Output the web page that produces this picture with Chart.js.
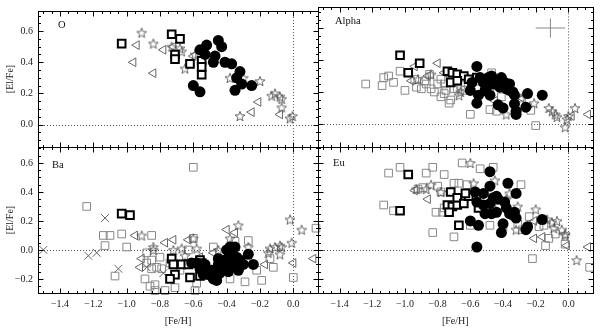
<!DOCTYPE html>
<html><head><meta charset="utf-8">
<script src="https://cdn.jsdelivr.net/npm/chart.js@4.4.0/dist/chart.umd.min.js"></script>
<style>
html,body{margin:0;padding:0;background:#fff;}
#wrap{position:relative;width:600px;height:328px;overflow:hidden;}
canvas{position:absolute;left:0;top:0;}
</style></head><body>
<div id="wrap">
<canvas id="cTL" width="600" height="328"></canvas>
<canvas id="cTR" width="600" height="328"></canvas>
<canvas id="cBL" width="600" height="328"></canvas>
<canvas id="cBR" width="600" height="328"></canvas>
</div>
<script>
// ---------- tick labels ----------
const xTickValues = [-1.4, -1.2, -1.0, -0.8, -0.6, -0.4, -0.2, 0.0];
const yTickTop = [0.0, 0.2, 0.4, 0.6];
const yTickBottom = [-0.2, 0.0, 0.2, 0.4, 0.6];
const xTitle = '[Fe/H]';
const yTitle = '[El/Fe]';
const panelNames = ['O', 'Alpha', 'Ba', 'Eu'];

// ---------- O ----------
const O_circles = [[-0.52,0.51],[-0.56,0.48],[-0.53,0.45],[-0.45,0.54],[-0.43,0.50],[-0.47,0.44],[-0.48,0.40],[-0.41,0.40],[-0.37,0.39],[-0.32,0.34],[-0.34,0.30],[-0.31,0.26],[-0.35,0.22],[-0.25,0.25],[-0.60,0.25],[-0.56,0.21]];
const O_bold = [[-1.03,0.52],[-0.73,0.58],[-0.68,0.55],[-0.71,0.45],[-0.71,0.42],[-0.62,0.39],[-0.55,0.41],[-0.55,0.37],[-0.55,0.32]];
const O_stars = [[-0.91,0.59],[-0.84,0.52],[-0.73,0.50],[-0.68,0.49],[-0.67,0.47],[-0.65,0.36],[-0.59,0.45],[-0.38,0.30],[-0.30,0.30],[-0.20,0.28],[-0.32,0.055],[-0.13,0.185],[-0.11,0.20],[-0.08,0.18],[-0.07,0.165],[-0.07,0.11],[-0.02,0.04],[-0.005,0.055]];
const O_tri = [[-0.94,0.51],[-0.96,0.40],[-0.84,0.33],[-0.78,0.48],[-0.72,0.50],[-0.60,0.44],[-0.25,0.08],[-0.21,0.145],[-0.08,0.065]];

// ---------- Alpha ----------
const A_circles = [[-0.56,0.36],[-0.59,0.26],[-0.60,0.21],[-0.54,0.29],[-0.52,0.26],[-0.49,0.29],[-0.47,0.30],[-0.46,0.25],[-0.51,0.21],[-0.55,0.18],[-0.56,0.13],[-0.48,0.18],[-0.43,0.27],[-0.41,0.29],[-0.39,0.26],[-0.36,0.25],[-0.38,0.22],[-0.34,0.20],[-0.33,0.18],[-0.43,0.12],[-0.40,0.10],[-0.33,0.125],[-0.32,0.06],[-0.32,0.08],[-0.26,0.105],[-0.25,0.19],[-0.16,0.18],[-0.42,0.23],[-0.50,0.23],[-0.36,0.21]];
const A_bold = [[-1.03,0.43],[-0.91,0.38],[-0.98,0.32],[-0.74,0.33],[-0.71,0.32],[-0.68,0.31],[-0.64,0.30],[-0.61,0.28],[-0.72,0.26],[-0.68,0.27],[-0.56,0.29]];
const A_squares = [[-1.24,0.25],[-1.14,0.24],[-1.13,0.29],[-1.10,0.30],[-1.07,0.26],[-1.03,0.33],[-1.00,0.21],[-0.93,0.23],[-0.88,0.27],[-0.87,0.25],[-0.85,0.31],[-0.82,0.20],[-0.80,0.25],[-0.78,0.17],[-0.75,0.21],[-0.73,0.13],[-0.72,0.15],[-0.70,0.22],[-0.66,0.24],[-0.63,0.21],[-0.60,0.06],[-0.48,0.09],[-0.47,0.32],[-0.44,0.08],[-0.23,0.085],[-0.20,-0.01],[-0.78,0.28],[-0.94,0.28],[-0.84,0.22],[-0.76,0.25],[-0.68,0.22],[-0.90,0.22],[-0.64,0.26],[-0.56,0.22],[-0.41,0.17],[-0.48,0.22],[-0.76,0.19]];
const A_stars = [[-0.92,0.28],[-0.84,0.31],[-0.67,0.18],[-0.66,0.20],[-0.38,0.06],[-0.29,0.16],[-0.21,0.13],[-0.12,0.10],[-0.10,0.08],[-0.08,0.06],[-0.07,0.045],[-0.02,-0.02],[-0.01,0.03],[0.04,0.10],[0.00,0.05]];
const A_tri = [[-0.96,0.27],[-0.94,0.36],[-0.80,0.38],[-0.86,0.30],[-0.76,0.32],[-0.45,0.145],[-0.28,0.16],[0.12,0.06],[0.02,0.05]];
const A_errCenter = [-0.11, 0.60];
const A_errSize = [0.09, 0.06];

// ---------- Ba ----------
const B_circles = [[-0.58,-0.09],[-0.56,-0.13],[-0.53,-0.10],[-0.52,-0.14],[-0.51,-0.17],[-0.48,-0.20],[-0.46,-0.21],[-0.54,-0.17],[-0.61,-0.09],[-0.45,-0.06],[-0.45,-0.10],[-0.42,-0.13],[-0.40,0.00],[-0.38,0.02],[-0.35,0.02],[-0.37,-0.02],[-0.34,-0.05],[-0.32,-0.07],[-0.36,-0.10],[-0.33,-0.14],[-0.30,-0.10],[-0.27,-0.03],[-0.24,-0.10],[-0.38,-0.09],[-0.39,-0.15],[-0.49,-0.14],[-0.41,-0.07],[-0.44,-0.16]];
const B_bold = [[-1.03,0.25],[-0.98,0.24],[-0.73,-0.06],[-0.72,-0.10],[-0.71,-0.17],[-0.74,-0.20],[-0.62,-0.19],[-0.67,-0.10],[-0.63,-0.10],[-0.56,-0.07],[-0.55,-0.09],[-0.56,-0.18]];
const B_squares = [[-0.60,0.57],[-1.24,0.30],[-1.14,0.10],[-1.10,0.10],[-1.13,0.03],[-1.03,0.11],[-1.00,0.02],[-1.07,-0.18],[-0.85,0.10],[-0.88,-0.02],[-0.88,-0.09],[-0.85,-0.13],[-0.89,-0.20],[-0.83,-0.24],[-0.83,-0.28],[-0.77,-0.28],[-0.80,-0.05],[-0.79,-0.13],[-0.82,-0.12],[-0.71,-0.26],[-0.59,-0.28],[-0.58,-0.23],[-0.48,0.02],[-0.63,0.00],[-0.60,0.08],[-0.35,0.06],[-0.27,0.065],[-0.38,-0.20],[-0.29,-0.22],[-0.19,-0.21],[-0.22,-0.14],[-0.14,-0.06],[-0.12,-0.12],[0.00,-0.19],[0.136,0.15],[-0.68,-0.14],[-0.74,-0.09],[-0.85,-0.07],[-0.86,-0.25]];
const B_stars = [[-0.91,0.10],[-0.84,0.02],[-0.84,0.00],[-0.72,0.00],[-0.67,0.01],[-0.60,0.08],[-0.58,0.01],[-0.65,-0.04],[-0.45,0.00],[-0.33,0.17],[-0.38,0.08],[-0.27,0.02],[-0.15,-0.02],[-0.14,0.01],[-0.11,0.02],[-0.08,0.03],[-0.07,0.02],[-0.02,0.21],[-0.01,0.05],[0.05,0.14],[-0.08,-0.03],[-0.43,-0.11]];
const B_tri = [[-0.95,0.10],[-0.91,-0.06],[-0.92,-0.12],[-0.77,0.05],[-0.72,0.07],[-0.63,0.07],[-0.56,-0.05],[-0.40,0.14],[-0.35,0.12],[-0.17,-0.10],[0.00,-0.09],[0.12,-0.06],[-0.48,-0.02]];
const B_cross = [[-1.50,0.00],[-1.23,-0.04],[-1.18,-0.02],[-1.13,0.22],[-1.05,-0.13],[-0.88,-0.12],[-0.78,-0.16]];

// ---------- Eu ----------
const E_circles = [[-0.48,0.54],[-0.48,0.44],[-0.37,0.46],[-0.32,0.39],[-0.57,0.40],[-0.52,0.39],[-0.46,0.36],[-0.44,0.37],[-0.56,0.33],[-0.52,0.31],[-0.48,0.32],[-0.43,0.35],[-0.51,0.25],[-0.47,0.25],[-0.44,0.26],[-0.38,0.29],[-0.36,0.25],[-0.34,0.24],[-0.32,0.22],[-0.40,0.18],[-0.41,0.12],[-0.60,0.20],[-0.55,0.17],[-0.26,0.14],[-0.25,0.16],[-0.16,0.21],[-0.56,0.02],[-0.33,0.26],[-0.39,0.33]];
const E_bold = [[-0.98,0.52],[-1.03,0.27],[-0.72,0.40],[-0.74,0.31],[-0.71,0.30],[-0.68,0.31],[-0.68,0.36],[-0.64,0.32],[-0.73,0.26],[-0.67,0.17],[-0.61,0.37],[-0.63,0.39],[-0.55,0.29]];
const E_squares = [[-1.10,0.53],[-1.03,0.57],[-0.83,0.57],[-0.65,0.60],[-0.54,0.56],[-0.46,0.57],[-1.13,0.31],[-1.07,0.27],[-0.87,0.53],[-0.76,0.52],[-0.80,0.44],[-0.89,0.43],[-0.78,0.40],[-0.67,0.46],[-0.81,0.26],[-0.77,0.26],[-0.83,0.12],[-0.70,0.09],[-0.60,0.17],[-0.48,0.17],[-0.40,0.16],[-0.29,0.45],[-0.24,0.23],[-0.15,0.17],[-0.12,0.08],[-0.14,0.03],[-0.22,-0.06],[-0.02,0.04],[0.13,-0.12],[-0.62,0.45],[-0.70,0.46],[-0.76,0.29],[-0.31,0.18],[-0.18,0.16],[-0.08,0.11],[-0.92,0.42],[-0.28,0.14]];
const E_stars = [[-0.60,0.60],[-0.45,0.48],[-0.93,0.42],[-0.87,0.42],[-0.84,0.45],[-0.78,0.40],[-0.58,0.46],[-0.38,0.35],[-0.31,0.30],[-0.20,0.28],[-0.13,0.21],[-0.10,0.19],[-0.07,0.20],[-0.09,0.15],[-0.04,0.14],[-0.02,0.11],[-0.02,0.10],[0.05,-0.07],[-0.32,0.14],[-0.36,0.39]];
const E_tri = [[-0.94,0.41],[-0.86,0.35],[-0.46,0.31],[-0.24,0.16],[-0.21,0.08],[-0.16,0.09],[-0.01,0.03],[0.12,0.02],[-0.21,0.20]];

// ---------- styling ----------
const FONT = "'Liberation Serif','DejaVu Serif',serif";
Chart.defaults.font.family = FONT;
Chart.defaults.font.size = 10;
Chart.defaults.color = '#222';

function makeStar(size, color, lw) {
  const c = document.createElement('canvas');
  c.width = size; c.height = size;
  const g = c.getContext('2d');
  g.strokeStyle = color; g.lineWidth = lw;
  const cx = size / 2, cy = size / 2 + 0.6, R = size / 2 - 0.8, r = R * 0.42;
  g.beginPath();
  for (let i = 0; i < 10; i++) {
    const a = -Math.PI / 2 + i * Math.PI / 5;
    const rad = i % 2 ? r : R;
    g.lineTo(cx + rad * Math.cos(a), cy + rad * Math.sin(a));
  }
  g.closePath(); g.stroke();
  return c;
}
const starImg = makeStar(12, '#555', 0.9);

const pts = arr => arr.map(p => ({x: p[0], y: p[1]}));

function sets(circles, bold, stars, tri, cross, squares) {
  const out = [];
  out.push({data: pts(circles), pointStyle: 'circle', pointRadius: 5.5, backgroundColor: '#000', borderColor: '#000', borderWidth: 0});
  out.push({data: pts(bold), pointStyle: 'rect', pointRadius: 5.4, backgroundColor: '#fff', borderColor: '#000', borderWidth: 2});
  if (stars) out.push({data: pts(stars), pointStyle: starImg, pointRadius: 6});
  if (tri) out.push({data: pts(tri), pointStyle: 'triangle', rotation: -90, pointRadius: 5, backgroundColor: 'rgba(0,0,0,0)', borderColor: '#666', borderWidth: 1});
  if (cross) out.push({data: pts(cross), pointStyle: 'crossRot', pointRadius: 5.5, borderColor: '#666', borderWidth: 1});
  if (squares) out.push({data: pts(squares), pointStyle: 'rect', pointRadius: 5.4, backgroundColor: 'rgba(0,0,0,0)', borderColor: '#888', borderWidth: 1});
  out.forEach(d => { d.clip = false; d.showLine = false; });
  return out;
}

const fmt = v => (v < -1e-9 ? '\u2212' : '') + Math.abs(v).toFixed(1);

const deco = {
  id: 'deco',
  beforeDatasetsDraw(chart) {
    const {ctx, chartArea: a, scales: {x, y}} = chart;
    ctx.save();
    ctx.strokeStyle = '#555'; ctx.lineWidth = 1; ctx.setLineDash([1, 2]);
    const x0 = Math.round(x.getPixelForValue(0)) + 0.5;
    const y0 = Math.round(y.getPixelForValue(0)) + 0.5;
    ctx.beginPath();
    ctx.moveTo(a.left, y0); ctx.lineTo(a.right, y0);
    ctx.moveTo(x0, a.top); ctx.lineTo(x0, a.bottom);
    ctx.stroke();
    ctx.restore();
  },
  afterDraw(chart, args, opts) {
    const {ctx, chartArea: a, scales: {x, y}} = chart;
    const L = Math.round(a.left) + 0.5, R = Math.round(a.right) + 0.5;
    const T = Math.round(a.top) + 0.5, B = Math.round(a.bottom) + 0.5;
    ctx.save();
    ctx.strokeStyle = '#000'; ctx.lineWidth = 1;
    ctx.strokeRect(L, T, R - L, B - T);
    ctx.beginPath();
    const isMajor = v => Math.abs(v / 0.2 - Math.round(v / 0.2)) < 1e-6;
    for (let k = Math.ceil(x.min / 0.05); k * 0.05 <= x.max + 1e-9; k++) {
      const v = k * 0.05, px = Math.round(x.getPixelForValue(v)) + 0.5;
      const len = isMajor(v) ? 5 : 2.5;
      ctx.moveTo(px, B); ctx.lineTo(px, B - len);
      ctx.moveTo(px, T); ctx.lineTo(px, T + len);
    }
    for (let k = Math.ceil(y.min / 0.05); k * 0.05 <= y.max + 1e-9; k++) {
      const v = k * 0.05, py = Math.round(y.getPixelForValue(v)) + 0.5;
      const len = isMajor(v) ? 5 : 2.5;
      ctx.moveTo(L, py); ctx.lineTo(L + len, py);
      ctx.moveTo(R, py); ctx.lineTo(R - len, py);
    }
    ctx.stroke();
    ctx.fillStyle = '#111';
    ctx.font = '10.5px ' + FONT;
    ctx.textBaseline = 'middle'; ctx.textAlign = 'left';
    ctx.fillText(opts.label, a.left + opts.dx, a.top + opts.dy);
    ctx.restore();
  }
};

const X_MIN = -1.532, X_MAX = 0.148;
const TOP_MIN = -0.144, TOP_MAX = 0.729;
const BOT_MIN = -0.297, BOT_MAX = 0.710;

function makePanel(id, c) {
  new Chart(document.getElementById(id), {
    type: 'scatter',
    data: {datasets: c.sets},
    options: {
      responsive: false, animation: false, events: [], devicePixelRatio: 1,
      layout: {padding: c.pad},
      plugins: {legend: {display: false}, tooltip: {enabled: false},
        deco: {label: c.label, dx: c.dx, dy: c.dy}},
      scales: {
        x: {
          type: 'linear', position: 'bottom', min: X_MIN, max: X_MAX,
          grid: {display: false, drawTicks: false}, border: {display: false},
          ticks: {display: c.showX, padding: 5, color: '#222', font: {size: 10}, callback: v => fmt(v)},
          afterBuildTicks: s => { s.ticks = xTickValues.map(v => ({value: v})); },
          afterFit: s => { s.height = c.xH; },
          title: {display: c.showX, text: xTitle, padding: 0, color: '#222', font: {size: 10}}
        },
        y: {
          type: 'linear', position: 'left', min: c.yMin, max: c.yMax,
          grid: {display: false, drawTicks: false}, border: {display: false},
          ticks: {display: c.showY, padding: 5, color: '#222', font: {size: 10}, callback: v => fmt(v)},
          afterBuildTicks: s => { s.ticks = c.yTicks.map(v => ({value: v})); },
          afterFit: s => { s.width = c.yW; },
          title: {display: c.showY, text: yTitle, padding: 0, color: '#222', font: {size: 10}}
        }
      }
    },
    plugins: [deco]
  });
}

const errSets = [
  {type: 'line', data: [{x: A_errCenter[0] - A_errSize[0], y: A_errCenter[1]}, {x: A_errCenter[0] + A_errSize[0], y: A_errCenter[1]}], borderColor: '#888', borderWidth: 1, pointRadius: 0, clip: false},
  {type: 'line', data: [{x: A_errCenter[0], y: A_errCenter[1] - A_errSize[1]}, {x: A_errCenter[0], y: A_errCenter[1] + A_errSize[1]}], borderColor: '#888', borderWidth: 1, pointRadius: 0, clip: false}
];

makePanel('cTL', {sets: sets(O_circles, O_bold, O_stars, O_tri, null, null),
  pad: {left: 4, top: 3, right: 282, bottom: 181}, yW: 34, xH: 0, showX: false, showY: true,
  yMin: TOP_MIN, yMax: TOP_MAX, yTicks: yTickTop, label: panelNames[0], dx: 20, dy: 14});
makePanel('cTR', {sets: sets(A_circles, A_bold, A_stars, A_tri, null, A_squares).concat(errSets),
  pad: {left: 318, top: 3, right: 2, bottom: 181}, yW: 0, xH: 0, showX: false, showY: false,
  yMin: TOP_MIN, yMax: TOP_MAX, yTicks: yTickTop, label: panelNames[1], dx: 17, dy: 14});
makePanel('cBL', {sets: sets(B_circles, B_bold, B_stars, B_tri, B_cross, B_squares),
  pad: {left: 4, top: 147, right: 282, bottom: 1}, yW: 34, xH: 34, showX: true, showY: true,
  yMin: BOT_MIN, yMax: BOT_MAX, yTicks: yTickBottom, label: panelNames[2], dx: 14, dy: 18});
makePanel('cBR', {sets: sets(E_circles, E_bold, E_stars, E_tri, null, E_squares),
  pad: {left: 318, top: 147, right: 2, bottom: 1}, yW: 0, xH: 34, showX: true, showY: false,
  yMin: BOT_MIN, yMax: BOT_MAX, yTicks: yTickBottom, label: panelNames[3], dx: 15, dy: 16});
</script>
</body></html>
